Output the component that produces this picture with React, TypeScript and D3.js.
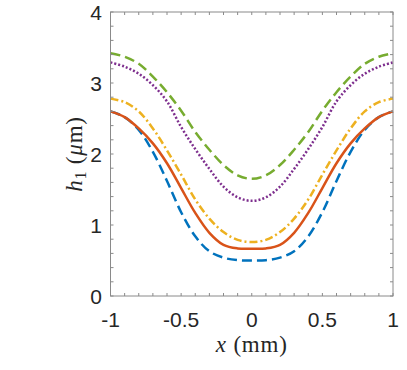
import * as d3 from "d3";
import React from "react";

const xs = [-1, -0.9, -0.8, -0.7, -0.6, -0.5, -0.4, -0.3, -0.2, -0.1, 0, 0.1, 0.2, 0.3, 0.4, 0.5, 0.6, 0.7, 0.8, 0.9, 1];

const blue = [2.6, 2.52, 2.34, 2.03, 1.62, 1.18, 0.84, 0.63, 0.54, 0.505, 0.5, 0.505, 0.54, 0.63, 0.84, 1.18, 1.62, 2.03, 2.34, 2.52, 2.6];
const red = [2.6, 2.52, 2.36, 2.15, 1.87, 1.52, 1.17, 0.89, 0.72, 0.67, 0.665, 0.67, 0.72, 0.89, 1.17, 1.52, 1.87, 2.15, 2.36, 2.52, 2.6];
const yellow = [2.78, 2.73, 2.6, 2.36, 2.05, 1.71, 1.36, 1.09, 0.9, 0.79, 0.76, 0.79, 0.9, 1.09, 1.36, 1.71, 2.05, 2.36, 2.6, 2.73, 2.78];
const purple = [3.29, 3.23, 3.13, 2.97, 2.74, 2.38, 2.07, 1.79, 1.54, 1.39, 1.34, 1.39, 1.54, 1.79, 2.07, 2.38, 2.74, 2.97, 3.13, 3.23, 3.29];
const green = [3.42, 3.37, 3.27, 3.09, 2.87, 2.61, 2.31, 2.06, 1.845, 1.7, 1.65, 1.7, 1.845, 2.06, 2.31, 2.61, 2.87, 3.09, 3.27, 3.37, 3.42];

const xTicks = [-1, -0.5, 0, 0.5, 1];
const xTickLabels = ["-1", "-0.5", "0", "0.5", "1"];
const yTicks = [0, 1, 2, 3, 4];

const series = [
  { values: blue, color: "#0072BD", dash: "10,5" },
  { values: red, color: "#D95319", dash: null },
  { values: yellow, color: "#EDB120", dash: "8,3,2,3" },
  { values: purple, color: "#7E2F8E", dash: "2,2" },
  { values: green, color: "#77AC30", dash: "10,5" },
];

const App = () => {
  const width = 407;
  const height = 370;
  const m = { top: 12, right: 14, bottom: 74, left: 110.5 };
  const innerW = width - m.left - m.right;
  const innerH = height - m.top - m.bottom;

  const x = d3.scaleLinear().domain([-1, 1]).range([0, innerW]);
  const y = d3.scaleLinear().domain([0, 4]).range([innerH, 0]);

  const line = d3
    .line<number>()
    .x((_, i) => x(xs[i]))
    .y((d) => y(d))
    .curve(d3.curveCatmullRom);

  const minorX = d3.range(-1, 1.0001, 0.1);
  const minorY = d3.range(0, 4.0001, 0.2);
  const tl = 3;
  const axisColor = "#8a8a8a";
  const textColor = "#262626";
  const tickFont = "Liberation Sans, Arial, sans-serif";
  const labelFont = "Liberation Serif, Times New Roman, serif";

  return (
    <svg width={width} height={height} style={{ position: "absolute", left: 0, top: 0, background: "#fff" }}>
      <g transform={`translate(${m.left},${m.top})`}>
        {series.map((s, i) => (
          <path
            key={i}
            d={line(s.values) || ""}
            fill="none"
            stroke={s.color}
            strokeWidth={2.5}
            strokeDasharray={s.dash || undefined}
          />
        ))}

        {/* box */}
        <rect x={0} y={0} width={innerW} height={innerH} fill="none" stroke={axisColor} strokeWidth={1} />

        {/* ticks point inward on all four sides */}
        {minorX.map((t, i) => (
          <g key={"x" + i}>
            <line x1={x(t)} x2={x(t)} y1={innerH} y2={innerH - tl} stroke={axisColor} />
            <line x1={x(t)} x2={x(t)} y1={0} y2={tl} stroke={axisColor} />
          </g>
        ))}
        {minorY.map((t, i) => (
          <g key={"y" + i}>
            <line x1={0} x2={tl} y1={y(t)} y2={y(t)} stroke={axisColor} />
            <line x1={innerW} x2={innerW - tl} y1={y(t)} y2={y(t)} stroke={axisColor} />
          </g>
        ))}

        {xTicks.map((t, i) => (
          <text
            key={"xl" + i}
            x={x(t)}
            y={innerH + 31}
            textAnchor="middle"
            fontFamily={tickFont}
            fontSize={21}
            fill={textColor}
          >
            {xTickLabels[i]}
          </text>
        ))}
        {yTicks.map((t) => (
          <text
            key={"yl" + t}
            x={-8.5}
            y={y(t) + 8}
            textAnchor="end"
            fontFamily={tickFont}
            fontSize={21}
            fill={textColor}
          >
            {t}
          </text>
        ))}

        <text
          x={innerW / 2}
          y={innerH + 56}
          textAnchor="middle"
          fontFamily={labelFont}
          fontSize={23}
          letterSpacing={0.8}
          fill={textColor}
        >
          <tspan fontStyle="italic">x</tspan>
          <tspan> (mm)</tspan>
        </text>

        <text
          transform={`translate(-29,${innerH / 2}) rotate(-90)`}
          textAnchor="middle"
          fontFamily={labelFont}
          fontSize={23}
          letterSpacing={0.8}
          fill={textColor}
        >
          <tspan fontStyle="italic">h</tspan>
          <tspan fontSize={16} dy={4}>1</tspan>
          <tspan dy={-4}> (</tspan>
          <tspan fontStyle="italic">μ</tspan>
          <tspan>m)</tspan>
        </text>
      </g>
    </svg>
  );
};

export default App;
